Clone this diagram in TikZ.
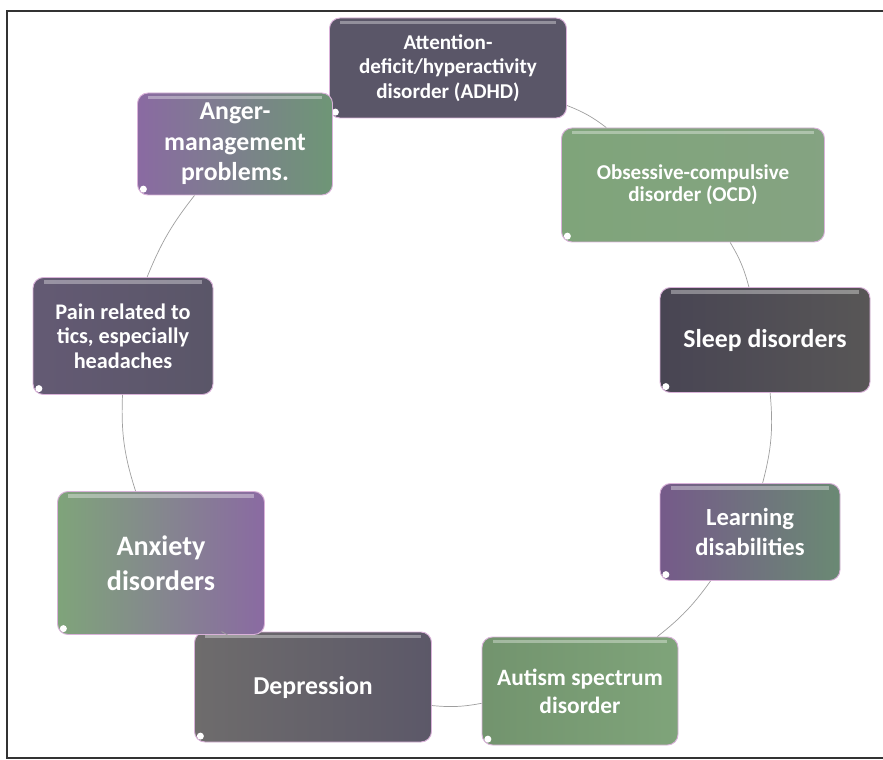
\documentclass[tikz,border=0pt]{standalone}
\usepackage{fontspec}
\setmainfont{Carlito}
\usepackage{tikz}
\usetikzlibrary{arrows.meta,positioning,calc,shapes}

\definecolor{slate}{HTML}{5A5668}
\definecolor{smoke}{HTML}{6E6C6C}
\definecolor{plum}{HTML}{8A6AA2}
\definecolor{lilac}{HTML}{B89CC8}
\definecolor{sage}{HTML}{7FA47A}
\definecolor{moss}{HTML}{6E9676}

\newcommand{\boxfont}[2]{\fontsize{#1}{#2}\selectfont\bfseries}

\tikzset{
  cyclebox/.style={rounded corners=9pt, draw=white!70!violet, line width=0.8pt,
    text=white, align=center, inner sep=2pt,
    path picture={
      \fill[white, opacity=0.35, sharp corners] ([xshift=9pt,yshift=-2.5pt]path picture bounding box.north west)
        rectangle ([xshift=-9pt,yshift=-5.5pt]path picture bounding box.north east);
      \fill[white] ([xshift=5pt,yshift=5pt]path picture bounding box.south west) circle (3pt);
    }},
  boxw/.style={minimum width=#1*0.03cm},
  boxh/.style={minimum height=#1*0.03cm},
  link/.style={draw=gray!75, line width=0.6pt},
}

\begin{document}
\begin{tikzpicture}[x=0.03cm, y=-0.03cm]
    \useasboundingbox (0,0) rectangle (883,760);

    % frame
    \draw[black!80, line width=1.2pt] (883,11) -- (7,11) -- (7,758) -- (883,758);

    % boxes, clockwise from the top
    \node[cyclebox, boxw=237, boxh=100, font=\boxfont{18}{21}, left color=slate, middle color=smoke, right color=slate]
        (adhd) at (448,68) {Attention-\\deficit/hyperactivity\\disorder (ADHD)};
    \node[cyclebox, boxw=263, boxh=114, font=\boxfont{18}{19}, left color=sage, middle color=lilac, right color=sage!90!lilac]
        (ocd) at (693,185) {Obsessive-compulsive\\disorder (OCD)};
    \node[cyclebox, boxw=210, boxh=105, font=\boxfont{22}{26}, left color=slate!80!black, middle color=slate, right color=smoke!80!black]
        (sleep) at (765,340) {Sleep disorders};
    \node[cyclebox, boxw=180, boxh=97, font=\boxfont{21}{25}, left color=plum!85!black, middle color=slate!70!plum, right color=moss!80!slate]
        (learn) at (750,532) {Learning\\disabilities};
    \node[cyclebox, boxw=196, boxh=108, font=\boxfont{20}{24}, left color=sage!90!black, middle color=lilac!80!slate, right color=sage]
        (autism) at (580,691) {Autism spectrum\\disorder};
    \node[cyclebox, boxw=237, boxh=110, font=\boxfont{22}{26}, left color=smoke, middle color=smoke!85!slate, right color=slate!90!smoke]
        (depr) at (313,687) {Depression};
    \node[cyclebox, boxw=207, boxh=143, font=\boxfont{24}{30}, left color=sage, middle color=lilac, right color=plum]
        (anx) at (161,563) {Anxiety\\disorders};
    \node[cyclebox, boxw=180, boxh=117, font=\boxfont{19}{21}, left color=slate!80!plum, middle color=smoke!80!plum, right color=slate]
        (pain) at (123,336) {Pain related to\\tics, especially\\headaches};
    \node[cyclebox, boxw=195, boxh=102, font=\boxfont{22}{26}, left color=plum, middle color=slate!60!plum, right color=moss]
        (anger) at (235,144) {Anger-\\management\\problems.};

    % links round the cycle
    \draw[link] (adhd) to[bend left=8] (ocd);
    \draw[link] (ocd) to[bend left=8] (sleep);
    \draw[link] (sleep) to[bend left=10] (learn);
    \draw[link] (learn) to[bend left=8] (autism);
    \draw[link] (autism) to[bend left=8] (depr);
    \draw[link] (depr) to[bend left=8] (anx);
    \draw[link] (anx) to[bend left=10] (pain);
    \draw[link] (pain) to[bend left=8] (anger);
\end{tikzpicture}
\end{document}
